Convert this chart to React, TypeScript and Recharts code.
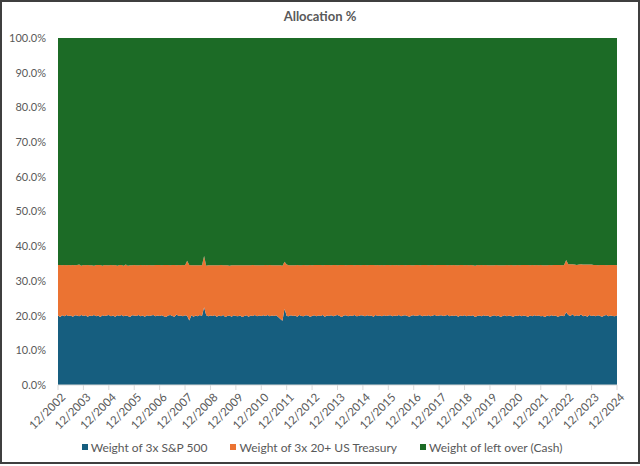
import React from 'react';
import { AreaChart, Area, XAxis, YAxis, Legend } from 'recharts';

// Monthly observations, first point 12/2002, last point 12/2024
const START_YEAR = 2002;
const START_MONTH = 12;

const tickLabels = [
  '12/2002', '12/2003', '12/2004', '12/2005', '12/2006', '12/2007', '12/2008', '12/2009',
  '12/2010', '12/2011', '12/2012', '12/2013', '12/2014', '12/2015', '12/2016', '12/2017',
  '12/2018', '12/2019', '12/2020', '12/2021', '12/2022', '12/2023', '12/2024',
];

const yTicks = [0, 10, 20, 30, 40, 50, 60, 70, 80, 90, 100];

// Weight of 3x S&P 500 (%)
const spxWeight = [
  20.0,
  19.6, 20.1, 19.8, 20.2, 19.9, 20.0, 19.7, 20.1, 20.0, 19.8, 20.2, 19.9,
  20.1, 19.7, 20.0, 19.9, 20.2, 19.8, 20.0, 19.6, 20.1, 19.9, 20.0, 20.2,
  19.8, 20.0, 19.7, 20.1, 19.9, 20.2, 19.8, 20.0, 19.9, 19.6, 20.1, 20.0,
  19.9, 20.2, 19.8, 20.0, 19.7, 20.1, 19.9, 20.0, 20.2, 19.8, 20.0, 19.9,
  20.1, 19.8, 19.6, 20.0, 20.2, 19.9, 19.7, 20.3, 19.9, 20.0, 19.8, 20.1,
  19.9, 18.6, 20.1, 19.7, 20.0, 19.8, 20.2, 19.9, 22.4, 20.1, 19.8, 20.0,
  19.9, 20.1, 19.7, 20.0, 19.8, 20.2, 19.6, 19.9, 20.0, 19.7, 20.1, 19.9,
  19.8, 20.0, 19.6, 19.9, 20.1, 19.7, 20.0, 19.9, 20.2, 19.8, 20.0, 19.9,
  20.1, 19.9, 20.2, 19.8, 20.0, 19.9, 20.1, 19.6, 19.0, 18.5, 22.0, 19.9,
  19.8, 20.1, 19.9, 20.0, 19.7, 20.2, 19.9, 19.8, 20.1, 20.0, 19.7, 19.9,
  20.1, 19.8, 20.0, 19.9, 20.2, 19.7, 20.0, 19.9, 20.1, 19.8, 20.0, 20.2,
  19.9, 19.6, 20.0, 20.1, 19.8, 20.0, 19.9, 20.2, 19.8, 19.9, 20.1, 20.0,
  19.8, 20.1, 19.9, 20.0, 19.7, 20.2, 19.9, 20.0, 19.8, 20.1, 19.9, 20.0,
  20.1, 19.8, 20.0, 19.9, 20.2, 19.8, 20.0, 20.1, 19.9, 19.7, 20.0, 20.1,
  19.9, 20.0, 20.2, 19.8, 20.0, 19.9, 20.1, 19.8, 20.0, 20.2, 19.9, 20.0,
  20.1, 19.9, 20.0, 20.2, 19.8, 20.0, 19.9, 20.1, 19.7, 20.0, 19.9, 20.1,
  19.8, 20.0, 19.9, 20.1, 19.6, 19.9, 20.0, 19.8, 20.1, 19.9, 20.0, 19.7,
  19.9, 20.1, 19.8, 20.0, 19.6, 19.9, 20.1, 19.8, 20.0, 19.9, 19.7, 20.0,
  19.9, 20.1, 19.8, 20.0, 19.9, 19.7, 20.0, 19.8, 20.1, 19.9, 20.0, 19.8,
  19.9, 19.6, 20.0, 19.8, 20.1, 19.9, 20.0, 19.7, 19.9, 20.0, 19.8, 21.0,
  20.2, 19.9, 20.4, 19.8, 20.1, 19.9, 20.3, 19.8, 20.0, 19.7, 20.2, 19.9,
  20.0, 19.8, 20.1, 19.9, 19.7, 20.0, 20.2, 19.8, 20.0, 19.9, 19.8, 20.1,
];

// Weight of 3x 20+ US Treasury (%)
const tsyWeight = [
  14.6,
  15.0, 14.4, 14.8, 14.3, 14.7, 14.5, 14.9, 14.4, 14.6, 14.9, 14.2, 14.7,
  14.4, 14.9, 14.5, 14.6, 14.2, 14.8, 14.6, 15.0, 14.3, 14.7, 14.5, 14.3,
  14.8, 14.5, 14.9, 14.3, 14.7, 14.4, 14.6, 14.7, 14.5, 14.9, 14.4, 14.6,
  14.6, 14.3, 14.8, 14.5, 14.9, 14.4, 14.7, 14.5, 14.3, 14.8, 14.6, 14.7,
  14.4, 14.8, 15.0, 14.6, 14.3, 14.7, 14.9, 14.2, 14.7, 14.5, 14.8, 14.4,
  15.9, 16.0, 14.4, 14.8, 14.5, 14.7, 14.3, 14.6, 14.8, 14.3, 14.7, 14.5,
  14.6, 14.4, 14.8, 14.5, 14.8, 14.3, 14.9, 14.6, 14.4, 14.8, 14.4, 14.6,
  14.7, 14.5, 14.9, 14.6, 14.4, 14.8, 14.5, 14.7, 14.3, 14.7, 14.5, 14.6,
  14.4, 14.7, 14.3, 14.8, 14.5, 14.6, 14.4, 14.9, 15.5, 15.9, 13.5, 14.8,
  14.7, 14.4, 14.6, 14.5, 14.9, 14.3, 14.6, 14.8, 14.4, 14.5, 14.9, 14.6,
  14.5, 14.8, 14.6, 14.7, 14.3, 14.9, 14.6, 14.7, 14.4, 14.8, 14.6, 14.3,
  14.7, 15.0, 14.6, 14.4, 14.8, 14.6, 14.7, 14.3, 14.8, 14.7, 14.4, 14.6,
  14.8, 14.4, 14.7, 14.6, 14.9, 14.3, 14.7, 14.5, 14.8, 14.4, 14.7, 14.6,
  14.4, 14.8, 14.5, 14.7, 14.3, 14.8, 14.6, 14.4, 14.7, 14.9, 14.5, 14.4,
  14.7, 14.6, 14.3, 14.8, 14.6, 14.7, 14.4, 14.8, 14.6, 14.3, 14.7, 14.6,
  14.5, 14.7, 14.6, 14.3, 14.8, 14.5, 14.7, 14.4, 14.8, 14.6, 14.7, 14.4,
  14.8, 14.5, 14.7, 14.4, 14.8, 14.7, 14.5, 14.8, 14.4, 14.7, 14.5, 14.8,
  14.6, 14.4, 14.8, 14.5, 14.9, 14.6, 14.4, 14.8, 14.5, 14.7, 14.8, 14.5,
  14.7, 14.4, 14.8, 14.6, 14.7, 14.9, 14.5, 14.8, 14.4, 14.7, 14.5, 14.8,
  14.6, 14.9, 14.5, 14.8, 14.4, 14.7, 14.6, 14.9, 14.7, 14.5, 14.8, 15.0,
  14.6, 14.9, 14.4, 14.9, 14.5, 14.8, 14.5, 14.9, 14.7, 15.0, 14.5, 14.8,
  14.6, 14.8, 14.4, 14.7, 14.9, 14.6, 14.3, 14.8, 14.6, 14.7, 14.8, 14.4,
];

const COLORS = { spx: '#165E7F', tsy: '#EB7332', cash: '#1C6B26' };
const TEXT = '#595959';
const FONT = 'Lato, "Open Sans", sans-serif';

const seriesNames = {
  spx: 'Weight of 3x S&P 500',
  tsy: 'Weight of 3x 20+ US Treasury',
  cash: 'Weight of left over (Cash)',
};

const monthPos = (i: number) => START_YEAR + (START_MONTH - 1) / 12 + i / 12;

// cash is the left-over share of each month's allocation
const data = spxWeight.map((s, i) => ({
  t: monthPos(i),
  spx: s,
  tsy: tsyWeight[i],
  cash: Math.round((100 - s - tsyWeight[i]) * 10) / 10,
}));

const xTicks = tickLabels.map((lab) => {
  const [m, y] = lab.split('/').map(Number);
  return y + (m - 1) / 12;
});

const labelFor = (v: number) => {
  const idx = xTicks.findIndex((t) => Math.abs(t - v) < 1e-6);
  return idx >= 0 ? tickLabels[idx] : '';
};

const XTick = (props: any) => {
  const { x, y, payload } = props;
  return (
    <text
      transform={`translate(${x + 2},${y - 1}) rotate(-45)`}
      textAnchor="end"
      dy="0.75em"
      fontSize={11.5}
      fill={TEXT}
      fontFamily={FONT}
    >
      {labelFor(payload.value)}
    </text>
  );
};

const LegendContent = () => (
  <div
    style={{
      display: 'flex',
      justifyContent: 'center',
      gap: 23,
      fontFamily: FONT,
      fontSize: 12,
      color: TEXT,
      height: 20,
      alignItems: 'center',
      paddingLeft: 4,
    }}
  >
    {(['spx', 'tsy', 'cash'] as const).map((k) => (
      <div key={k} style={{ display: 'flex', alignItems: 'center' }}>
        <span
          style={{ width: 6, height: 6, background: COLORS[k], display: 'inline-block', marginRight: 3 }}
        />
        <span>{seriesNames[k]}</span>
      </div>
    ))}
  </div>
);

export default function App() {
  return (
    <div style={{ position: 'absolute', left: 0, top: 0, width: 640, height: 466, background: '#fff' }}>
      <div
        style={{
          position: 'absolute',
          left: 0,
          top: 8,
          width: 640,
          textAlign: 'center',
          fontFamily: FONT,
          fontWeight: 700,
          fontSize: 13,
          color: TEXT,
        }}
      >
        Allocation %
      </div>
      <AreaChart
        width={640}
        height={466}
        data={data}
        margin={{ top: 38, right: 23, left: 8, bottom: 0 }}
      >
        <XAxis
          dataKey="t"
          type="number"
          domain={[xTicks[0], xTicks[xTicks.length - 1]]}
          ticks={xTicks}
          interval={0}
          tick={<XTick />}
          tickSize={5}
          tickMargin={3}
          height={59}
          stroke="#D9D9D9"
          axisLine={{ stroke: '#D9D9D9' }}
          tickLine={{ stroke: '#D9D9D9' }}
        />
        <YAxis
          type="number"
          domain={[0, 100]}
          ticks={yTicks}
          width={50}
          axisLine={false}
          tickLine={false}
          tickMargin={6}
          tickFormatter={(v: number) => `${v.toFixed(1)}%`}
          tick={{ fill: TEXT, fontSize: 11, fontFamily: FONT }}
          allowDataOverflow
        />
        <Area
          type="linear"
          dataKey="spx"
          stackId="a"
          name={seriesNames.spx}
          fill={COLORS.spx}
          stroke="none"
          fillOpacity={1}
          isAnimationActive={false}
        />
        <Area
          type="linear"
          dataKey="tsy"
          stackId="a"
          name={seriesNames.tsy}
          fill={COLORS.tsy}
          stroke="none"
          fillOpacity={1}
          isAnimationActive={false}
        />
        <Area
          type="linear"
          dataKey="cash"
          stackId="a"
          name={seriesNames.cash}
          fill={COLORS.cash}
          stroke="none"
          fillOpacity={1}
          isAnimationActive={false}
        />
        <Legend
          verticalAlign="bottom"
          height={22}
          content={<LegendContent />}
          wrapperStyle={{ left: 0, width: 640, bottom: 7 }}
        />
      </AreaChart>
      <div
        style={{
          position: 'absolute',
          left: 0,
          top: 0,
          width: 640,
          height: 464,
          border: '2px solid #3F3F3F',
          boxSizing: 'border-box',
          pointerEvents: 'none',
        }}
      />
    </div>
  );
}
